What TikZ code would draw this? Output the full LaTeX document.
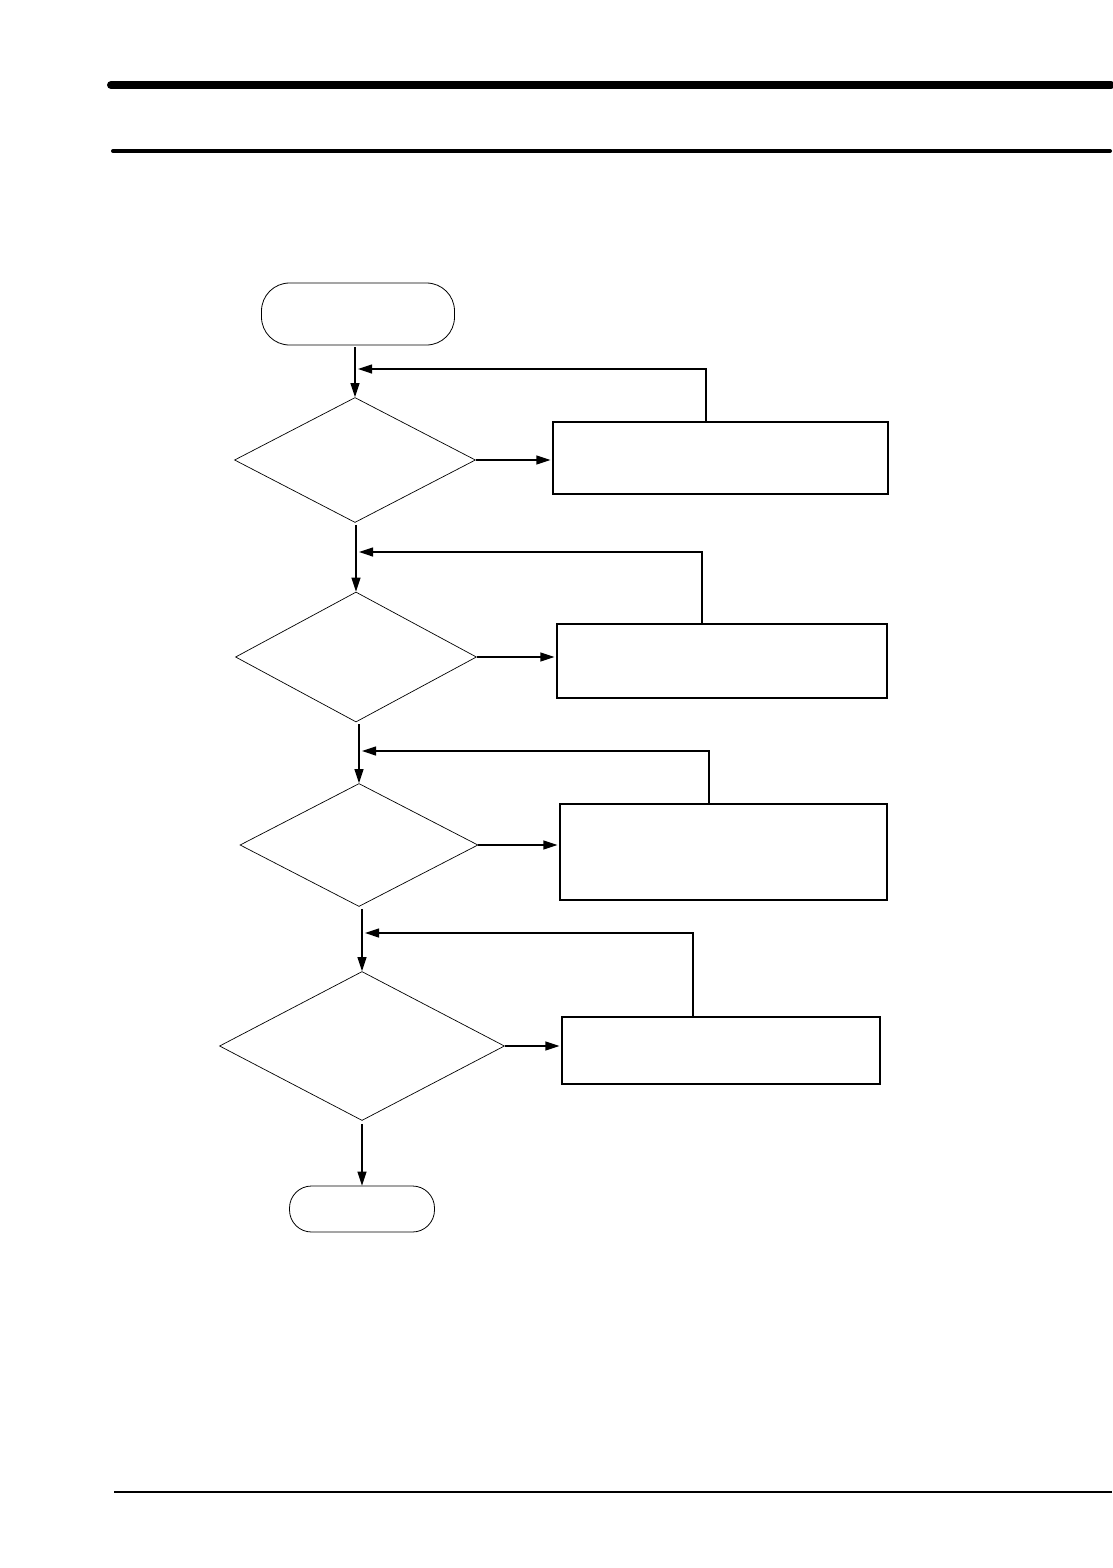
\documentclass[tikz,border=0pt]{standalone}
\usetikzlibrary{shapes.geometric,arrows.meta}
\begin{document}
\begin{tikzpicture}[x=0.5pt,y=0.5pt,yscale=-1,xscale=1,
  term/.style={draw,line width=0.4pt,inner sep=0pt,rounded corners=#1},
  decision/.style={draw,diamond,line width=0.35pt,inner sep=0pt},
  stepbox/.style={draw,rectangle,line width=0.6pt,inner sep=0pt},
  arr/.style={line width=0.6pt,-{Triangle[length=7pt,width=4.5pt]}},
  link/.style={line width=0.6pt}]
\useasboundingbox (0,0) rectangle (1113,1568);

%Straight Lines [page rules]
\draw [line width=4pt,line cap=round] (111,85) -- (1111,85) ;
\draw [line width=2pt,line cap=round] (113,151) -- (1110,151) ;
\draw [line width=0.7pt] (114,1492) -- (1112,1492) ;

%Shape: Terminators
\node [term=14pt,minimum width=96.5pt,minimum height=31pt] (start) at (358,314) {};
\node [term=11pt,minimum width=72.5pt,minimum height=23pt] (stop) at (362,1209) {};

%Shape: Diamonds
\node [decision,minimum width=120.5pt,minimum height=62.5pt] (chk1) at (355,460) {};
\node [decision,minimum width=120.5pt,minimum height=65pt] (chk2) at (356,657) {};
\node [decision,minimum width=119pt,minimum height=61.5pt] (chk3) at (359,845) {};
\node [decision,minimum width=142.5pt,minimum height=74.5pt] (chk4) at (362,1046) {};

%Shape: Rectangles
\node [stepbox,minimum width=167.5pt,minimum height=36pt] (fix1) at (720.5,458) {};
\node [stepbox,minimum width=165pt,minimum height=37pt] (fix2) at (722,661) {};
\node [stepbox,minimum width=163.5pt,minimum height=48pt] (fix3) at (723.5,852) {};
\node [stepbox,minimum width=159pt,minimum height=33.5pt] (fix4) at (721,1050.5) {};

%Loop corners
\coordinate (ret1) at (706,369);
\coordinate (ret2) at (702,552);
\coordinate (ret3) at (709,751);
\coordinate (ret4) at (693,933);

%Straight Lines [main flow]
\draw [arr,shorten <=1pt] (chk1.north |- start.south) -- (chk1.north) ;
\draw [arr,shorten <=1pt] (chk2.north |- chk1.south) -- (chk2.north) ;
\draw [arr,shorten <=1pt] (chk3.north |- chk2.south) -- (chk3.north) ;
\draw [arr,shorten <=1pt] (chk4.north |- chk3.south) -- (chk4.north) ;
\draw [arr,shorten <=1.5pt] (stop.north |- chk4.south) -- (stop.north) ;

%Straight Lines [to the boxes]
\draw [arr,shorten >=1pt] (chk1.east) -- (chk1.east -| fix1.west) ;
\draw [arr,shorten >=1pt] (chk2.east) -- (chk2.east -| fix2.west) ;
\draw [arr,shorten >=1pt] (chk3.east) -- (chk3.east -| fix3.west) ;
\draw [arr,shorten >=1pt] (chk4.east) -- (chk4.east -| fix4.west) ;

%Straight Lines [back to the flow]
\draw [arr,shorten >=1.5pt] (fix1.north -| ret1) -- (ret1) -- (chk1.north |- ret1) ;
\draw [arr,shorten >=1.5pt] (fix2.north -| ret2) -- (ret2) -- (chk2.north |- ret2) ;
\draw [arr,shorten >=1.5pt] (fix3.north -| ret3) -- (ret3) -- (chk3.north |- ret3) ;
\draw [arr,shorten >=1.5pt] (fix4.north -| ret4) -- (ret4) -- (chk4.north |- ret4) ;

\end{tikzpicture}
\end{document}
